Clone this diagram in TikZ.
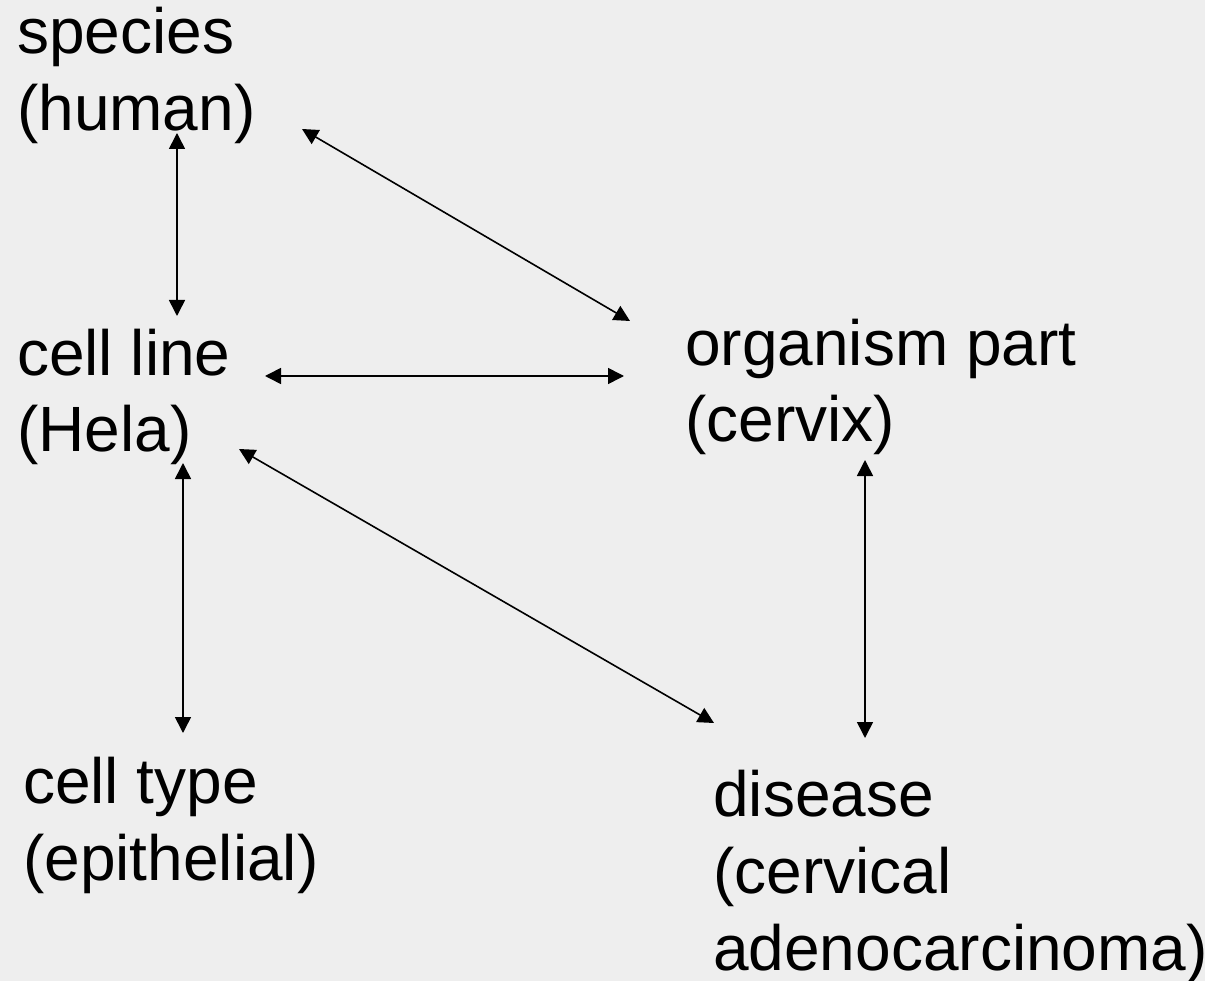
\documentclass[tikz,border=0pt]{standalone}
\usepackage{fontspec}
\setmainfont{Liberation Sans}
\usetikzlibrary{arrows.meta}
\definecolor{bg}{HTML}{EEEEEE}
\begin{document}
\begin{tikzpicture}[x=1pt,y=-1pt,
  label/.style={anchor=base west,inner sep=0pt,align=left,
    font=\fontsize{64}{77}\selectfont},
  tip/.style={Triangle[length=16pt,width=16pt]},
  link/.style={line width=1.6pt,{Triangle[length=16pt,width=16pt]}-{Triangle[length=16pt,width=16pt]}}]
  % background and page size
  \fill[bg] (0,0) rectangle (1205,981);
  \useasboundingbox (0,0) rectangle (1205,981);

  % terms (anchored at the baseline of their last line)
  \node[label] (species) at (17,131) {species\\(human)};
  \node[label] (cellline) at (17,452) {cell line\\(Hela)};
  \node[label] (organ) at (685,442) {organism part\\(cervix)};
  \node[label] (celltype) at (23,880) {cell type\\(epithelial)};
  \node[label] (disease) at (713,970) {disease\\(cervical\\adenocarcinoma)};

  % arrow end points
  \coordinate (sp-a) at (177,133);  \coordinate (cl-a) at (177,316);
  \coordinate (sp-b) at (302,129);  \coordinate (or-b) at (630,321);
  \coordinate (cl-c) at (265,376);  \coordinate (or-c) at (624,376);
  \coordinate (cl-d) at (239,449);  \coordinate (di-d) at (714,723);
  \coordinate (cl-e) at (183,463);  \coordinate (ct-e) at (183,733);
  \coordinate (or-f) at (865,460);  \coordinate (di-f) at (865,738);

  % relations
  \draw[link] (sp-a) -- (cl-a);
  \draw[link] (sp-b) -- (or-b);
  \draw[link] (cl-c) -- (or-c);
  \draw[link] (cl-d) -- (di-d);
  \draw[link] (cl-e) -- (ct-e);
  \draw[link] (or-f) -- (di-f);
\end{tikzpicture}
\end{document}
